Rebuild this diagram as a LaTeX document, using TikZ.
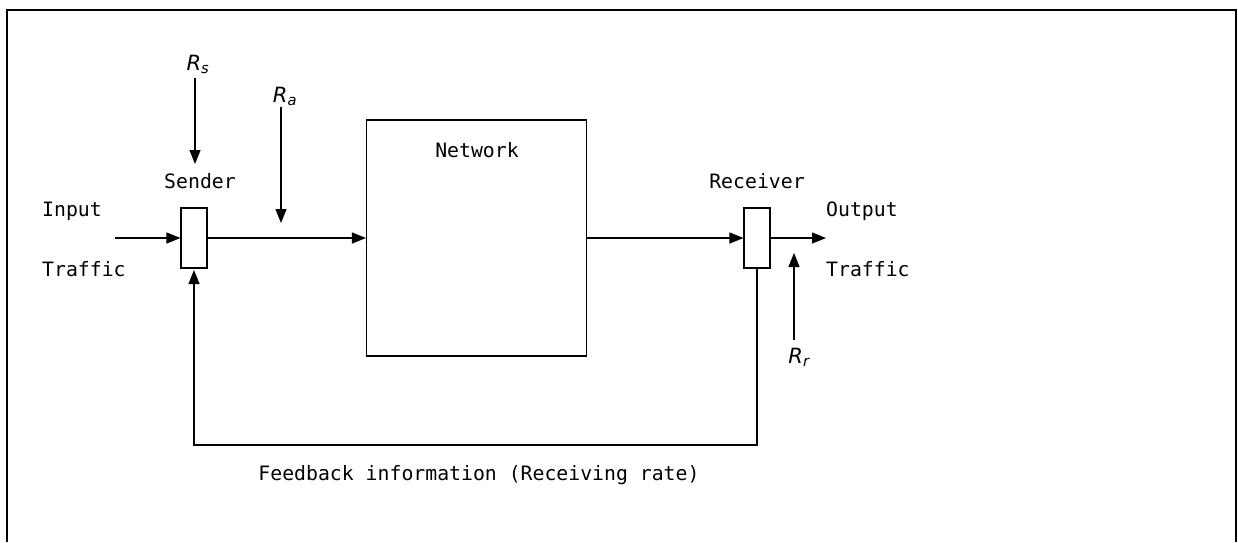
\documentclass[tikz,border=0pt]{standalone}
\usepackage{fontspec}
\setmonofont{DejaVu Sans Mono}
\setsansfont{DejaVu Sans}
\usetikzlibrary{arrows.meta}
\tikzset{
  lbl/.style={font=\ttfamily\fontsize{19.8}{22}\selectfont, inner sep=0pt},
  rate/.style={font=\sffamily\itshape\fontsize{21}{23}\selectfont, inner sep=0pt},
  blk/.style={draw, line width=1.1pt, inner sep=0pt},
  conn/.style={line width=1.1pt, -{Triangle[length=14pt,width=11pt]}},
}
\begin{document}
\begin{tikzpicture}[x=1pt,y=-1pt]
\useasboundingbox (0,0) rectangle (1238,542);
% frame
\draw[line width=1.2pt] (7,542) -- (7,10) -- (1236,10) -- (1236,542);
% blocks
\node[blk, minimum width=26pt, minimum height=60pt] (snd) at (194,238) {};
\node[blk, minimum width=220pt, minimum height=236pt] (net) at (476.5,238) {};
\node[blk, minimum width=26pt, minimum height=60pt] (rcv) at (757,238) {};
% labels
\node[lbl] (sndl) at (200,181) {Sender};
\node[lbl] (netl) at (477,150) {Network};
\node[lbl] (rcvl) at (757,181) {Receiver};
\node[lbl, anchor=west] (inl) at (42,211) {Input};
\node[lbl, anchor=west] (intl) at (42,269) {Traffic};
\node[lbl, anchor=west] (outl) at (826,211) {Output};
\node[lbl, anchor=west] (outtl) at (826,269) {Traffic};
\node[lbl] (fbl) at (479,475) {Feedback information (Receiving rate)};
\node[rate] (rs) at (198,64) {R\textsubscript{s}};
\node[rate] (ra) at (285,96) {R\textsubscript{a}};
\node[rate] (rr) at (799,357) {R\textsubscript{r}};
% coordinates
\coordinate (inS) at (115,238);
\coordinate (outE) at (826,238);
\coordinate (rsS) at (195,78);
\coordinate (rsT) at (195,164);
\coordinate (raS) at (281,107);
\coordinate (raT) at (281,223);
\coordinate (rrS) at (794,340);
\coordinate (rrT) at (794,253);
\coordinate (fb1) at (757,445);
\coordinate (fb2) at (194,445);
\coordinate (fbT) at (194,270);
% connectors
\draw[conn] (inS) -- (snd.west);
\draw[conn] (snd.east) -- (net.west |- snd.east);
\draw[conn] (net.east |- rcv.west) -- (rcv.west);
\draw[conn] (rcv.east) -- (outE);
\draw[conn] (rsS) -- (rsT);
\draw[conn] (raS) -- (raT);
\draw[conn] (rrS) -- (rrT);
\draw[conn] (rcv.south) -- (fb1) -- (fb2) -- (fbT);
\end{tikzpicture}
\end{document}
